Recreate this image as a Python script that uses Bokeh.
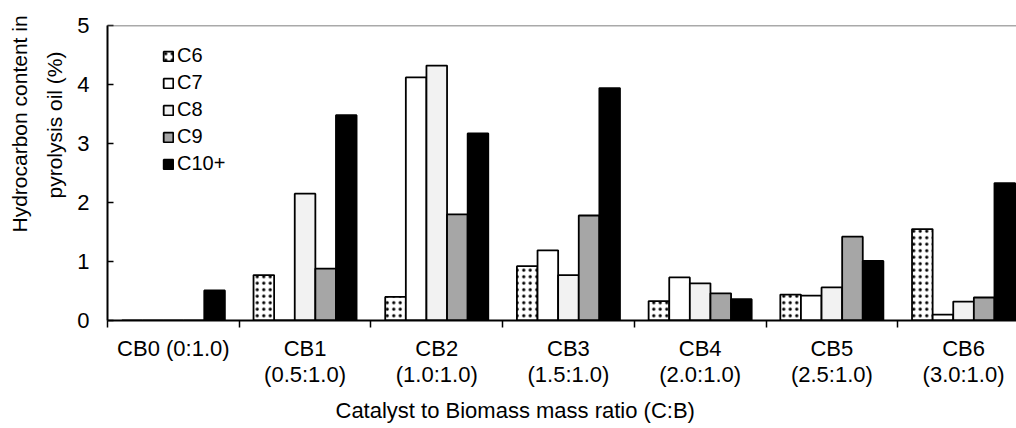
import numpy as np
from bokeh.plotting import figure
from bokeh.models import Range1d, FixedTicker, Span, Legend, LegendItem, Title
from bokeh.embed import file_html
from bokeh.resources import INLINE

categories = ["CB0 (0:1.0)", "CB1\n(0.5:1.0)", "CB2\n(1.0:1.0)", "CB3\n(1.5:1.0)",
              "CB4\n(2.0:1.0)", "CB5\n(2.5:1.0)", "CB6\n(3.0:1.0)"]
series_names = ["C6", "C7", "C8", "C9", "C10+"]
c6 = [0.0, 0.77, 0.40, 0.92, 0.33, 0.44, 1.55]
c7 = [0.0, 0.0, 4.12, 1.19, 0.73, 0.42, 0.10]
c8 = [0.0, 2.15, 4.32, 0.77, 0.63, 0.56, 0.32]
c9 = [0.0, 0.88, 1.80, 1.78, 0.46, 1.42, 0.39]
c10 = [0.51, 3.48, 3.17, 3.94, 0.36, 1.01, 2.33]
y_ticks = [0, 1, 2, 3, 4, 5]

FONT = "Liberation Sans"
W, H = 1016, 428
LEFT, TOP, BOTTOM = 107, 25, 107
cat_px = 131.7
frame_w = W - LEFT

p = figure(width=W, height=H, output_backend="svg", toolbar_location=None,
           x_range=Range1d(0, frame_w / cat_px), y_range=Range1d(0, 5),
           min_border_left=LEFT, min_border_right=0, min_border_top=TOP,
           min_border_bottom=BOTTOM)
p.background_fill_color = "white"
p.border_fill_color = "white"
p.outline_line_color = None
p.xgrid.visible = False
p.ygrid.visible = False

fills = ["white", "white", "#f2f2f2", "#a6a6a6", "black"]
bw = 0.1565
idx = np.arange(len(categories))
series = [c6, c7, c8, c9, c10]
items = []
for k, (name, vals, col) in enumerate(zip(series_names, series, fills)):
    xs = idx + 0.5 + (k - 2) * bw
    kw = {}
    if k == 0:
        kw = dict(hatch_pattern="dot", hatch_color="black", hatch_scale=6.5, hatch_weight=1.4)
    r = p.vbar(x=xs, top=vals, width=bw, bottom=0, fill_color=col,
               line_color="black", line_width=1.8, **kw)
    items.append(LegendItem(label=name, renderers=[r]))

legend = Legend(items=items, location=(55, 143), padding=0, margin=0, spacing=0,
                label_height=27, glyph_height=12, glyph_width=12, label_standoff=3,
                label_text_font=FONT, label_text_font_size="20px", label_text_color="black",
                border_line_color=None, background_fill_alpha=0)
p.add_layout(legend, "center")

# top line
p.add_layout(Span(location=5, dimension="width", line_color="#555555", line_width=1.5))

# x axis
xa = p.xaxis[0]
xa.ticker = FixedTicker(ticks=list(idx + 0.5), minor_ticks=list(range(len(categories) + 1)))
xa.major_label_overrides = {float(i + 0.5): c for i, c in enumerate(categories)}
xa.major_tick_in = 0
xa.major_tick_out = 0
xa.minor_tick_in = 0
xa.minor_tick_out = 7
xa.minor_tick_line_color = "black"
xa.minor_tick_line_width = 1.5
xa.axis_line_color = "black"
xa.axis_line_width = 2
xa.major_label_standoff = 8
xa.major_label_text_line_height = 1.04
xa.major_label_text_font = FONT
xa.major_label_text_font_size = "22px"
xa.major_label_text_color = "black"

# y axis
ya = p.yaxis[0]
ya.ticker = FixedTicker(ticks=y_ticks)
ya.major_tick_in = 6
ya.major_tick_out = 0
ya.minor_tick_line_color = None
ya.major_tick_line_color = "black"
ya.major_tick_line_width = 1.5
ya.axis_line_color = "black"
ya.axis_line_width = 2
ya.major_label_standoff = 18
ya.major_label_text_font = FONT
ya.major_label_text_font_size = "22px"
ya.major_label_text_color = "black"

# axis titles
p.add_layout(Title(text="pyrolysis oil (%)", align="left", offset=122,
                   text_font=FONT, text_font_size="21px", text_font_style="normal",
                   text_color="black", standoff=18), "left")
p.add_layout(Title(text="Hydrocarbon content in", align="left", offset=88,
                   text_font=FONT, text_font_size="21px", text_font_style="normal",
                   text_color="black", standoff=2), "left")
p.add_layout(Title(text="Catalyst to Biomass mass ratio (C:B)", align="left", offset=228,
                   text_font=FONT, text_font_size="22px", text_font_style="normal",
                   text_color="black", standoff=12), "below")

open("out.html", "w").write(file_html(p, INLINE))
